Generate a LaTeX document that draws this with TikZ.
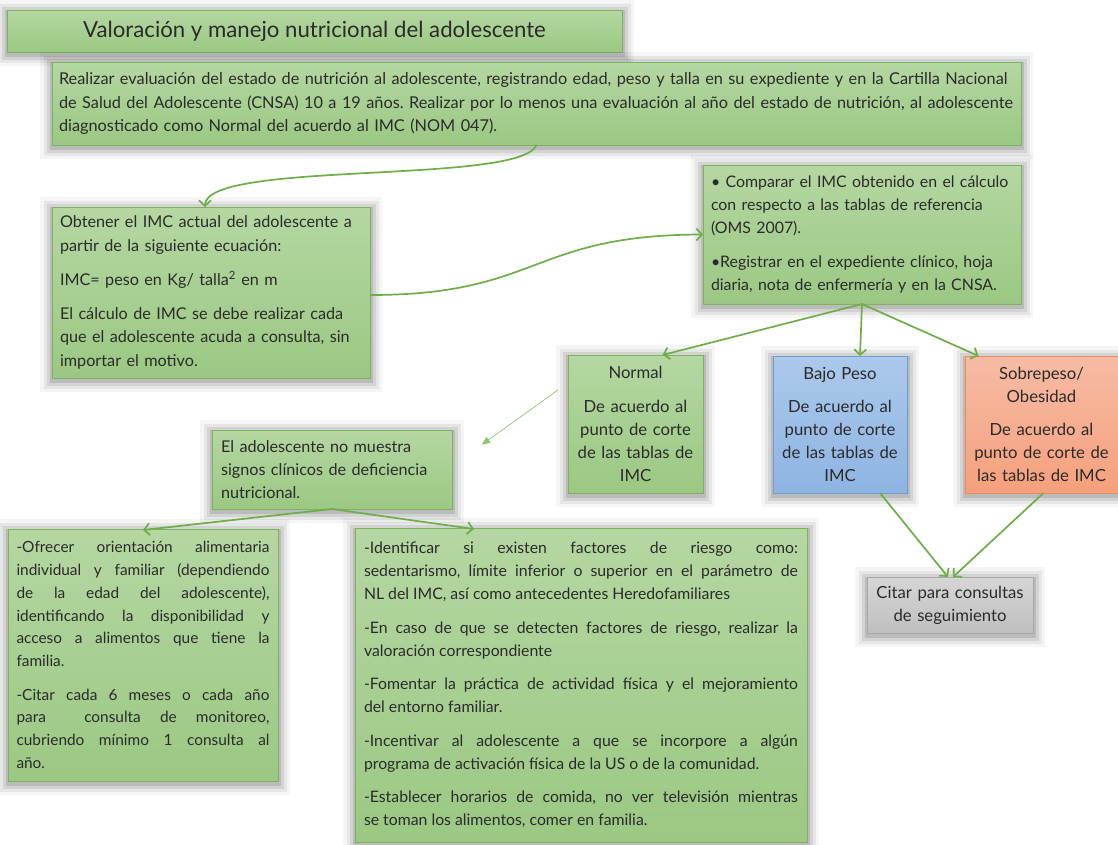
\documentclass[tikz,border=0pt]{standalone}
\usepackage{fontspec}
\setmainfont{Lato}
\usetikzlibrary{arrows.meta}

\definecolor{txt}{HTML}{2B2B2B}
\definecolor{gtop}{HTML}{B5D7A2}
\definecolor{gbot}{HTML}{9BC883}
\definecolor{gline}{HTML}{7DB35C}
\definecolor{btop}{HTML}{ABC9EB}
\definecolor{bbot}{HTML}{8EB4E2}
\definecolor{bline}{HTML}{6E9DD3}
\definecolor{otop}{HTML}{F6BBA5}
\definecolor{obot}{HTML}{F5A07C}
\definecolor{oline}{HTML}{EE8A5C}
\definecolor{ytop}{HTML}{D6D6D6}
\definecolor{ybot}{HTML}{BFBFBF}
\definecolor{yline}{HTML}{A8A8A8}
\definecolor{conn}{HTML}{6DAE48}
\definecolor{thin}{HTML}{8EC56F}

\newcommand\gap{\par\vspace{10.5pt}}
\frenchspacing

\tikzset{
  x=1pt, y=-1pt,
  % soft grey halo built from stacked translucent strokes
  halo/.style={
    preaction={draw=black, draw opacity=0.04, line width=24pt, transform canvas={yshift=-2pt}},
    preaction={draw=black, draw opacity=0.06, line width=17pt, transform canvas={yshift=-2pt}},
    preaction={draw=black, draw opacity=0.08, line width=11pt, transform canvas={yshift=-2pt}},
    preaction={draw=black, draw opacity=0.11, line width=5pt, transform canvas={yshift=-2pt}}},
  card/.style={rectangle, halo, draw=gline, line width=0.7pt,
    top color=gtop, bottom color=gbot, text=txt,
    inner sep=0pt, outer sep=0pt},
  bluecard/.style={card, draw=bline, top color=btop, bottom color=bbot},
  orangecard/.style={card, draw=oline, top color=otop, bottom color=obot},
  greycard/.style={card, draw=yline, top color=ytop, bottom color=ybot},
  link/.style={draw=conn, line width=1.7pt,
    -{Straight Barb[length=5.5pt,width=12pt,line width=1.7pt]}},
  thinlink/.style={draw=thin, line width=0.7pt,
    -{Triangle[length=8pt,width=7pt]}}
}

\begin{document}
\begin{tikzpicture}
\useasboundingbox[fill=white] (0,0) rectangle (1118,844);

% title strip
\node[card, minimum width=615pt, minimum height=42pt,
  font=\fontsize{22.2}{26}\selectfont] (title) at (314.5,31)
  {Valoración y manejo nutricional del adolescente};

% opening instruction
\node[card, font=\fontsize{16.3}{23.5}\selectfont, minimum width=969pt, minimum height=83pt,
  text width=955pt, align=left] (top) at (536.5,103.5)
  {Realizar evaluación del estado de nutrición al adolescente, registrando edad, peso y talla en su expediente y en la Cartilla Nacional\\
   de Salud del Adolescente (CNSA) 10 a 19 años. Realizar por lo menos una evaluación al año del estado de nutrición, al adolescente\\
   diagnosticado como Normal del acuerdo al IMC (NOM 047).};

% BMI calculation
\node[card, font=\fontsize{16.2}{23.5}\selectfont, minimum width=318pt, minimum height=171pt,
  text width=302pt, align=left] (imc) at (211,292.5)
  {Obtener el IMC actual del adolescente a\\partir de la siguiente ecuación:\gap
   IMC= peso en Kg/ talla\textsuperscript{2} en m\gap
   El cálculo de IMC se debe realizar cada\\que el adolescente acuda a consulta, sin\\importar el motivo.};

% comparison with reference tables
\node[card, font=\fontsize{15.9}{23}\selectfont, minimum width=318pt, minimum height=139pt,
  text width=302pt, align=left] (comp) at (862,234.5)
  {• Comparar el IMC obtenido en el cálculo\\con respecto a las tablas de referencia\\(OMS 2007).\gap
   •Registrar en el expediente clínico, hoja\\diaria, nota de enfermería y en la CNSA.};

% diagnosis categories
\node[card, font=\fontsize{16.7}{23}\selectfont, minimum width=135pt, minimum height=138pt,
  text width=130pt, align=center] (normal) at (635.5,424)
  {Normal\gap De acuerdo al\\punto de corte\\de las tablas de\\IMC};
\node[bluecard, font=\fontsize{16.7}{23}\selectfont, minimum width=134pt, minimum height=137pt,
  text width=130pt, align=center] (bajo) at (840,424.5)
  {Bajo Peso\gap De acuerdo al\\punto de corte\\de las tablas de\\IMC};
\node[orangecard, font=\fontsize{16.7}{23}\selectfont, minimum width=153pt, minimum height=137pt,
  text width=150pt, align=center] (sobre) at (1041.5,424.5)
  {Sobrepeso/\\Obesidad\gap De acuerdo al\\punto de corte de\\las tablas de IMC};

% normal branch
\node[card, font=\fontsize{16.2}{23}\selectfont, minimum width=240pt, minimum height=79pt,
  text width=222pt, align=left] (adol) at (332,469.5)
  {El adolescente no muestra\\signos clínicos de deficiencia\\nutricional.};

\node[card, font=\fontsize{15.4}{22.8}\selectfont, minimum width=270pt, minimum height=252pt,
  text width=253pt, align=justify] (left) at (143,655)
  {-Ofrecer orientación alimentaria\linebreak
   individual y familiar (dependiendo\linebreak
   de la edad del adolescente),\linebreak
   identificando la disponibilidad y\linebreak
   acceso a alimentos que tiene la\linebreak
   familia.\gap
   -Citar cada 6 meses o cada año\linebreak
   para\ \ consulta de monitoreo,\linebreak
   cubriendo mínimo 1 consulta al\linebreak
   año.};

\node[card, font=\fontsize{15.8}{23}\selectfont, minimum width=452pt, minimum height=314pt,
  text width=434pt, align=justify] (right) at (581,685)
  {-Identificar si existen factores de riesgo como:\linebreak
   sedentarismo, límite inferior o superior en el parámetro de\linebreak
   NL del IMC, así como antecedentes Heredofamiliares\gap
   -En caso de que se detecten factores de riesgo, realizar la\linebreak
   valoración correspondiente\gap
   -Fomentar la práctica de actividad física y el mejoramiento\linebreak
   del entorno familiar.\gap
   -Incentivar al adolescente a que se incorpore a algún\linebreak
   programa de activación física de la US o de la comunidad.\gap
   -Establecer horarios de comida, no ver televisión mientras\linebreak
   se toman los alimentos, comer en familia.};

% follow-up
\node[greycard, font=\fontsize{16.7}{23}\selectfont, minimum width=166pt, minimum height=56pt,
  text width=164pt, align=center] (citar) at (950,605)
  {Citar para consultas\\de seguimiento};

% connectors
\draw[link] (top.south) .. controls (520,185) and (205,160) .. ([xshift=-6pt]imc.north);
\draw[link] ([yshift=-2.5pt]imc.east) .. controls (540,295) and (530,235) .. (comp.west);
\draw[link] (comp.south) -- ([xshift=27pt]normal.north);
\draw[link] (comp.south) -- ([xshift=20pt]bajo.north);
\draw[link] (comp.south) -- ([xshift=-63pt]sobre.north);

\coordinate (nfrom) at ([xshift=-10pt,yshift=34pt]normal.west);
\coordinate (nto) at ([xshift=30pt,yshift=25pt]adol.east);
\draw[thinlink] (nfrom) -- (nto);

\draw[link] (adol.south) -- ([yshift=-1pt]left.north);
\draw[link] (adol.south) -- ([xshift=-107pt,yshift=-1pt]right.north);

\draw[link] ([xshift=40pt]bajo.south) -- ([xshift=-2pt]citar.north);
\draw[link] ([xshift=2pt]sobre.south) -- ([xshift=3pt]citar.north);
\end{tikzpicture}
\end{document}
